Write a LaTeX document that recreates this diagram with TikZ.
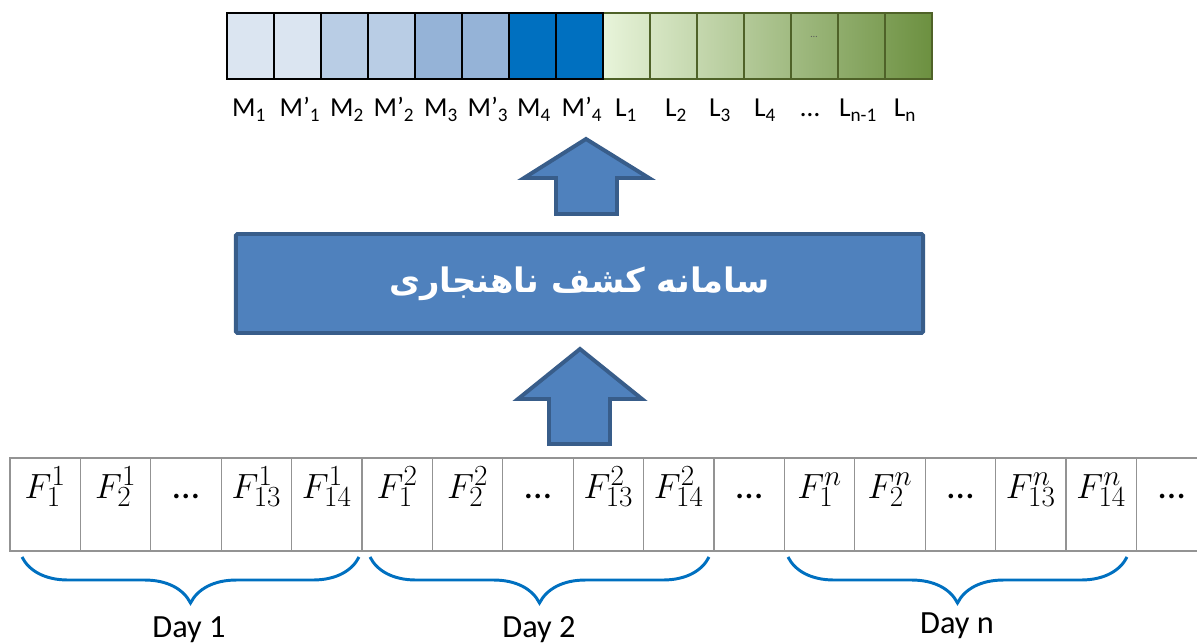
\documentclass[tikz,border=0pt]{standalone}
\usepackage{fontspec}
\setmainfont{Carlito}
\newfontfamily\persianfont[Script=Arabic]{DejaVu Sans}
\TeXXeTstate=1
\DeclareMathSizes{27}{27}{20}{15}
\usetikzlibrary{decorations.pathreplacing}

\definecolor{mone}{HTML}{DBE5F1}
\definecolor{mtwo}{HTML}{B9CDE5}
\definecolor{mthree}{HTML}{95B3D7}
\definecolor{mfour}{HTML}{0070C0}
\definecolor{lfirst}{HTML}{E8F4DA}
\definecolor{llast}{HTML}{6C9040}
\definecolor{lborder}{HTML}{4F6228}
\definecolor{boxblue}{HTML}{4F81BD}
\definecolor{boxedge}{HTML}{385D8A}
\definecolor{bracecol}{HTML}{0070C0}

\begin{document}
\begin{tikzpicture}[x=0.025cm,y=-0.025cm,
  mcell/.style={draw=black,line width=1.4pt},
  lcell/.style={draw=lborder,line width=1.1pt},
  fcell/.style={draw=gray!85,line width=0.9pt},
  lab/.style={anchor=base,inner sep=0pt,font=\fontsize{19.5}{21}\selectfont},
  feat/.style={anchor=base,inner sep=0pt,font=\fontsize{27}{30}\selectfont},
  daylab/.style={anchor=base,inner sep=0pt,font=\fontsize{23}{25}\selectfont},
  daybrace/.style={draw=bracecol,line width=2.1pt,decorate,
    decoration={brace,mirror,amplitude=1.15cm}},
  blockarrow/.style={draw=boxedge,fill=boxblue,line width=2.8pt}]
\useasboundingbox (0,0) rectangle (1197,643);

% output vector: L part first, one shading under all seven cells
\shade[left color=lfirst,right color=llast] (603,13) rectangle (932,79);
\draw[lcell] (603,13) rectangle (650,79);
\draw[lcell] (650,13) rectangle (697,79);
\draw[lcell] (697,13) rectangle (744,79);
\draw[lcell] (744,13) rectangle (791,79);
\draw[lcell] (791,13) rectangle (838,79);
\draw[lcell] (838,13) rectangle (885,79);
\draw[lcell] (885,13) rectangle (932,79);
\node[text=black!65,font=\fontsize{7}{8}\selectfont] (ldots) at (814,37) {…};
% M part
\draw[mcell,fill=mone] (227,13) rectangle (274,79);
\draw[mcell,fill=mone] (274,13) rectangle (321,79);
\draw[mcell,fill=mtwo] (321,13) rectangle (368,79);
\draw[mcell,fill=mtwo] (368,13) rectangle (415,79);
\draw[mcell,fill=mthree] (415,13) rectangle (462,79);
\draw[mcell,fill=mthree] (462,13) rectangle (509,79);
\draw[mcell,fill=mfour] (509,13) rectangle (556,79);
\draw[mcell,fill=mfour] (556,13) rectangle (603,79);

% labels under the vector
\node[lab] (m1) at (249,117) {M\textsubscript{1}};
\node[lab] (m1p) at (300,117) {M’\textsubscript{1}};
\node[lab] (m2) at (347,117) {M\textsubscript{2}};
\node[lab] (m2p) at (394,117) {M’\textsubscript{2}};
\node[lab] (m3) at (441,117) {M\textsubscript{3}};
\node[lab] (m3p) at (488,117) {M’\textsubscript{3}};
\node[lab] (m4) at (534,117) {M\textsubscript{4}};
\node[lab] (m4p) at (582,117) {M’\textsubscript{4}};
\node[lab] (l1) at (626,117) {L\textsubscript{1}};
\node[lab] (l2) at (676,117) {L\textsubscript{2}};
\node[lab] (l3) at (720,117) {L\textsubscript{3}};
\node[lab] (l4) at (765,117) {L\textsubscript{4}};
\node[lab] (ldots2) at (810,117) {…};
\node[lab] (lnm) at (858,117) {L\textsubscript{n-1}};
\node[lab] (ln) at (905,117) {L\textsubscript{n}};

% arrows and the detector box
\draw[blockarrow] (586,139) -- (649,178) -- (617,178) -- (617,214) -- (556,214)
  -- (556,178) -- (524,178) -- cycle;
\node[draw=boxedge,fill=boxblue,line width=2.8pt,rounded corners=1pt,
  minimum width=17.175cm,minimum height=2.475cm,text=white,
  font=\fontsize{24}{28}\selectfont] (sys) at (579.5,283.5)
  {\persianfont\bfseries\beginR سامانه کشف ناهنجاری\endR};
\draw[blockarrow] (580,349) -- (642,399) -- (610,399) -- (610,444) -- (549,444)
  -- (549,399) -- (518,399) -- cycle;

% feature cells, day after day
\draw[fcell] (10,458) rectangle (80.4,551);
\draw[fcell] (80.4,458) rectangle (150.8,551);
\draw[fcell] (150.8,458) rectangle (221.2,551);
\draw[fcell] (221.2,458) rectangle (291.6,551);
\draw[fcell] (291.6,458) rectangle (362,551);
\draw[fcell] (362,458) rectangle (432.4,551);
\draw[fcell] (432.4,458) rectangle (502.8,551);
\draw[fcell] (502.8,458) rectangle (573.2,551);
\draw[fcell] (573.2,458) rectangle (643.6,551);
\draw[fcell] (643.6,458) rectangle (714,551);
\draw[fcell] (714,458) rectangle (784.4,551);
\draw[fcell] (784.4,458) rectangle (854.8,551);
\draw[fcell] (854.8,458) rectangle (925.2,551);
\draw[fcell] (925.2,458) rectangle (995.6,551);
\draw[fcell] (995.6,458) rectangle (1066,551);
\draw[fcell] (1066,458) rectangle (1136.4,551);
\draw[fcell] (1136.4,458) rectangle (1206.8,551);

\node[feat] (f11) at (45.2,498) {$F_1^1$};
\node[feat] (f21) at (115.6,498) {$F_2^1$};
\node[feat] (d1dots) at (186,498) {…};
\node[feat] (f131) at (256.4,498) {$F_{13}^1$};
\node[feat] (f141) at (326.8,498) {$F_{14}^1$};
\node[feat] (f12) at (397.2,498) {$F_1^2$};
\node[feat] (f22) at (467.6,498) {$F_2^2$};
\node[feat] (d2dots) at (538,498) {…};
\node[feat] (f132) at (608.4,498) {$F_{13}^2$};
\node[feat] (f142) at (678.8,498) {$F_{14}^2$};
\node[feat] (middots) at (749.2,498) {…};
\node[feat] (f1n) at (819.6,498) {$F_1^n$};
\node[feat] (f2n) at (890,498) {$F_2^n$};
\node[feat] (dndots) at (960.4,498) {…};
\node[feat] (f13n) at (1030.8,498) {$F_{13}^n$};
\node[feat] (f14n) at (1101.2,498) {$F_{14}^n$};
\node[feat] (enddots) at (1171.6,498) {…};

% braces grouping the days
\coordinate (d1s) at (22,557);
\coordinate (d1e) at (359,557);
\coordinate (d2s) at (370,557);
\coordinate (d2e) at (709,557);
\coordinate (dns) at (788,557);
\coordinate (dne) at (1127,557);
\draw[daybrace] (d1s) -- (d1e);
\draw[daybrace] (d2s) -- (d2e);
\draw[daybrace] (dns) -- (dne);
\node[daylab] (day1) at (189,637) {Day 1};
\node[daylab] (day2) at (539,637) {Day 2};
\node[daylab] (dayn) at (957,633) {Day n};
\end{tikzpicture}
\end{document}
